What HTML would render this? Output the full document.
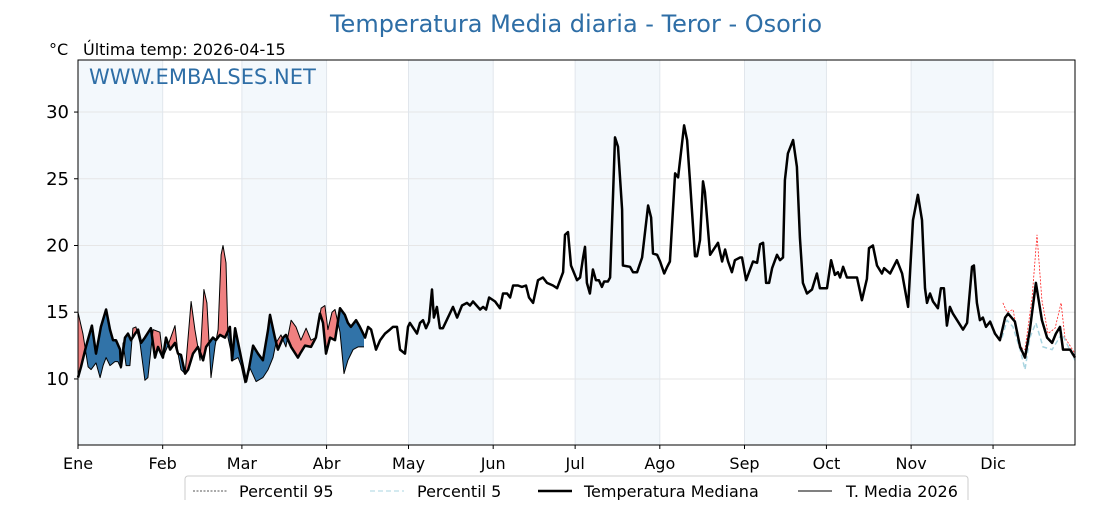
<!DOCTYPE html>
<html><head><meta charset="utf-8">
<style>
body{margin:0;background:#fff;width:1120px;height:500px;overflow:hidden;font-family:"Liberation Sans","DejaVu Sans",sans-serif}
</style></head>
<body>
<svg id="chart" width="1120" height="500" viewBox="0 0 1120 500" xmlns="http://www.w3.org/2000/svg" font-family="DejaVu Sans, Liberation Sans, sans-serif">
<text x="576" y="32" text-anchor="middle" font-size="24" fill="#2e6ea6">Temperatura Media diaria - Teror - Osorio</text>
<text x="49" y="55" font-size="16" fill="#000">°C</text>
<text x="83" y="55" font-size="16" fill="#000">Última temp: 2026-04-15</text>
<g id="plot"></g>
<text x="89" y="84" font-size="21" fill="#2e6ea6">WWW.EMBALSES.NET</text>
<g id="legend">
<rect x="185" y="476" width="783" height="30" rx="3" fill="#fff" stroke="#ccc"/>
<g><line x1="193" y1="491" x2="227" y2="491" stroke="#555" stroke-width="1" stroke-dasharray="2,1.5"/><text x="239" y="497" font-size="16">Percentil 95</text></g>
<g><line x1="370" y1="491" x2="404" y2="491" stroke="#a8d4e0" stroke-width="1" stroke-dasharray="5,3"/><text x="417" y="497" font-size="16">Percentil 5</text></g>
<g><line x1="538" y1="491" x2="572" y2="491" stroke="#000" stroke-width="2.5"/><text x="584" y="497" font-size="16">Temperatura Mediana</text></g>
<g><line x1="798" y1="491" x2="832" y2="491" stroke="#000" stroke-width="1"/><text x="846" y="497" font-size="16">T. Media 2026</text></g>
</g>
</svg>
<script>
const monthLabels=["Ene","Feb","Mar","Abr","May","Jun","Jul","Ago","Sep","Oct","Nov","Dic"];
const monthStarts=[0,31,60,91,121,152,182,213,244,274,305,335];
const yTicks=[10,15,20,25,30];
const medianDays=[0,1.1,2.9,5.1,6.6,8.4,10.3,11.7,12.8,13.9,15.4,15.7,17.2,18.3,19.4,20.9,22,23.1,24.5,26.7,28.2,29.3,31.1,32.2,33.7,35.5,36.6,37.7,39.2,40.3,42.1,43.9,45.8,46.9,48.3,49.4,50.5,52,53.8,55.6,56.4,57.5,58.6,60.4,61.5,62.6,64.1,65.9,67.7,69.6,70.3,72.1,73.2,75.1,76.1,78,80.5,81.6,83.1,85.3,87.1,88.6,89.7,90.8,92.3,94.1,95.9,97.7,98.8,99.9,101.8,103.2,105.1,106.2,107.3,109.1,110.6,112.4,114.2,115.3,116.8,117.9,119.7,120.8,121.5,124.1,125.2,126.3,127.4,128.5,129.6,130.3,131.4,132.5,133.6,137.3,138.8,140.6,142.4,143.5,144.6,147.2,148.3,149.4,150.5,152.7,154.5,155.6,157.1,158.2,159.3,161.1,162.5,164,165.1,166.6,168.4,170.2,171.7,173.9,175.4,177.6,178.3,179.4,180.5,182.7,183.8,184.9,185.6,186.3,187.4,188.5,189.6,190.7,191.8,192.6,194,194.8,195.9,196.6,197.7,199.2,199.5,202.1,203.2,204.7,206.5,208.7,209.8,210.5,212,213.1,214.6,215.7,216.7,218.6,219.7,221.9,223,224.1,225.9,226.6,227.7,228.8,229.5,231.4,234.3,235.8,236.9,238,239.4,240.5,242.4,243.1,244.6,247.1,248.6,249.7,250.8,251.9,253,254.1,255.9,257,258.1,258.8,259.9,261.8,263.2,264.3,265.4,266.9,268.7,270.5,271.6,274.2,275.7,277.1,278.2,279,280.1,281.5,283.7,285.2,287,288.8,289.6,291,292.5,294.3,295.1,297.3,299.8,301.7,303.9,305.7,307.5,309,310.1,310.8,311.9,313,314.8,315.9,317,318.1,319.2,320.3,324,325.5,327.3,328,329.1,330.2,331.3,332.4,333.9,335.7,337.5,339.4,340.5,343,344.9,346.7,348.5,350.7,352.9,354.8,356.6,358,359.5,360.6,363.2,365];
const medianVals=[10.1,10.9,12.4,14,11.9,13.9,15.2,13.7,12.9,12.9,12.2,10.9,13.1,13.4,12.9,13.4,13.7,12.7,13.1,13.8,11.6,12.4,11.6,13.1,12.2,12.7,11.9,11.8,10.4,10.7,11.9,12.4,11.4,12.4,12.8,13.1,12.9,13.3,13.1,13.9,11.4,13.8,12.7,10.9,9.8,10.8,12.5,11.9,11.4,13.7,14.8,13.1,12.2,13.1,13.3,12.4,11.6,12,12.5,12.4,13.1,14.9,14.2,11.9,13.1,12.9,15.3,14.8,14.2,13.9,14.4,13.9,13.1,13.9,13.7,12.2,12.9,13.4,13.7,13.9,13.9,12.2,11.9,13.9,14.2,13.4,14.2,14.4,13.8,14.3,16.7,14.6,15.4,13.8,13.8,15.4,14.6,15.5,15.7,15.5,15.8,15.2,15.4,15.2,16.1,15.8,15.3,16.4,16.4,16.1,17,17,16.9,17,16.1,15.7,17.4,17.6,17.2,17,16.8,18,20.8,21,18.5,17.4,17.6,19.1,19.9,17.2,16.4,18.2,17.4,17.4,16.9,17.3,17.3,17.6,23.9,28.1,27.4,22.7,18.5,18.4,18,18,19.1,23,22.1,19.4,19.3,18.8,17.9,18.4,18.8,25.4,25.1,29,27.9,24.7,19.2,19.2,20.4,24.8,24,19.3,20.2,18.8,19.7,18.8,18,18.9,19.1,19.1,17.4,18.8,18.7,20.1,20.2,17.2,17.2,18.3,19.3,18.9,19.1,24.9,26.9,27.9,25.9,20.6,17.2,16.4,16.7,17.9,16.8,16.8,18.9,17.8,18,17.6,18.4,17.6,17.6,17.6,15.9,17.5,19.8,20,18.5,17.9,18.3,17.9,18.9,17.9,15.4,21.9,23.8,21.9,16.8,15.7,16.4,15.8,15.3,16.8,16.8,14,15.4,14.9,13.7,14.2,18.4,18.5,15.7,14.4,14.6,13.9,14.3,13.4,12.9,14.6,14.9,14.3,12.4,11.6,13.7,17.2,14.4,13.1,12.7,13.4,13.9,12.2,12.2,11.6];
const yearDays=[0,1.8,3.7,4.8,6.6,8.1,9.2,10.3,11.7,13.5,14.6,15.7,16.5,17.6,19,20.1,21.2,22.7,24.5,25.6,27.5,30,31.1,32.9,35.5,36.6,37.7,39.2,41.4,42.8,44.7,46.1,47.2,48.7,50.2,51.3,52.4,53.1,54.2,54.9,56.7,58.6,59.7,61.1,63,65.2,67.7,69.6,71.4,72.5,74.3,76.1,78,79.8,81.6,83.5,85.3,87.1,89,90.4,91.5,93,94.1,95.9,97.4,98.8,100.7,102.5,104.7];
const yearVals=[15,13.4,10.9,10.7,11.2,10.1,11,11.6,11,11.3,11.3,10.8,12.7,11,11,13.8,13.9,12.7,9.9,10.1,13.7,13.5,11.6,12.5,14,11.9,10.7,10.4,15.8,13.7,11.4,16.7,15.7,10.1,12.5,13.7,19.3,20,18.7,13.1,11.4,11.6,11,9.7,10.8,9.8,10.1,10.7,11.6,12.7,13.3,12.4,14.4,13.9,12.9,13.8,12.9,13.1,15.3,15.5,13.7,15,15.2,13.5,10.4,11.4,12.2,12.4,12.4];
const p95Days=[338.6,340.1,342.3,344.9,346.7,349.3,351.1,352.9,355.1,357.7,359.9,361.3,365];
const p95Vals=[15.7,15,15.2,12.4,12.2,16.1,20.8,15.9,13.4,13.8,15.7,13.1,11.9];
const p5Days=[338.3,340.1,342.3,344.9,346.7,348.5,350.7,353.3,356.6,360.2,365];
const p5Vals=[13.1,14.4,13.9,12.2,10.7,13.1,14.2,12.4,12.2,13.4,11.4];

const X0=78,X1=1075,Y0=60,Y1=445,YMIN=5.05,YMAX=33.9,DMAX=365;
const xs=d=>X0+(X1-X0)*d/DMAX;
const ys=v=>Y1-(Y1-Y0)*(v-YMIN)/(YMAX-YMIN);
const NS="http://www.w3.org/2000/svg";
const plot=document.getElementById('plot');
function mk(tag,attrs,parent){const e=document.createElementNS(NS,tag);for(const k in attrs)e.setAttribute(k,attrs[k]);(parent||plot).appendChild(e);return e;}
function pts(ds,vs){return ds.map((d,i)=>xs(d).toFixed(1)+','+ys(vs[i]).toFixed(1)).join(' ');}

monthStarts.forEach((m,i)=>{
  const end=i<11?monthStarts[i+1]:DMAX;
  if(i%2===0){const r=mk('rect',{x:xs(m),y:Y0,width:xs(end)-xs(m),height:Y1-Y0,fill:'#f3f8fc'});
  
  }
});
yTicks.forEach(t=>{const l=mk('line',{x1:X0,x2:X1,y1:ys(t),y2:ys(t),stroke:'#e6e6e6','stroke-width':1});

});
monthStarts.forEach(m=>{const l=mk('line',{x1:xs(m),x2:xs(m),y1:Y0,y2:Y1,stroke:'#e1e6ec','stroke-width':1});

});

const defs=mk('defs',{});
const mp=pts(medianDays,medianVals);
const lastD=yearDays[yearDays.length-1];
const cA=mk('clipPath',{id:'aboveMed'},defs);
mk('polygon',{points:xs(0)+','+Y0+' '+mp+' '+xs(DMAX)+','+Y0},cA);
const cB=mk('clipPath',{id:'belowMed'},defs);
mk('polygon',{points:xs(0)+','+Y1+' '+mp+' '+xs(DMAX)+','+Y1},cB);
const yp=pts(yearDays,yearVals);
const red=mk('polygon',{points:xs(0)+','+Y1+' '+yp+' '+xs(lastD)+','+Y1,fill:'#f08080','clip-path':'url(#aboveMed)'});


const blue=mk('polygon',{points:xs(0)+','+Y0+' '+yp+' '+xs(lastD)+','+Y0,fill:'#3173a8','clip-path':'url(#belowMed)'});



const p95=mk('polyline',{points:pts(p95Days,p95Vals),fill:'none',stroke:'#ff2020','stroke-width':0.8,'stroke-dasharray':'2,1.5'});


const p5=mk('polyline',{points:pts(p5Days,p5Vals),fill:'none',stroke:'#a8d4e0','stroke-width':1.5,'stroke-dasharray':'5,3'});


const med=mk('polyline',{points:mp,fill:'none',stroke:'#000','stroke-width':2.5,'stroke-linejoin':'round'});


const yl=mk('polyline',{points:yp,fill:'none',stroke:'#000','stroke-width':1,'stroke-linejoin':'round'});



const fr=mk('rect',{x:X0,y:Y0,width:X1-X0,height:Y1-Y0,fill:'none',stroke:'#000','stroke-width':1});


yTicks.forEach(t=>{
  mk('line',{x1:X0-4,x2:X0,y1:ys(t),y2:ys(t),stroke:'#000'});
  const tx=mk('text',{x:X0-9,y:ys(t)+6,'text-anchor':'end','font-size':18});
  tx.textContent=t;
  
  
});
monthStarts.forEach((m,i)=>{
  mk('line',{x1:xs(m),x2:xs(m),y1:Y1,y2:Y1+4,stroke:'#000'});
  const tx=mk('text',{x:xs(m),y:Y1+24,'text-anchor':'middle','font-size':16});
  tx.textContent=monthLabels[i];
  
  
});
</script>
</body></html>
